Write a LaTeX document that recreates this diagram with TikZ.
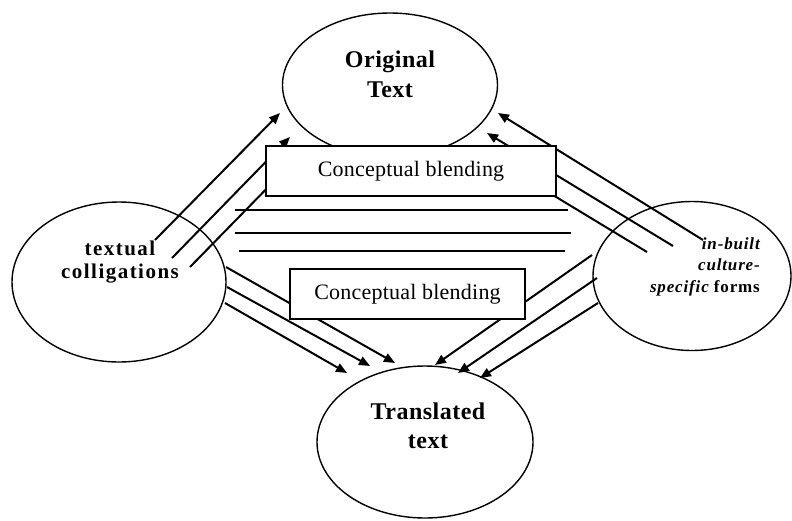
\documentclass[tikz,border=0pt]{standalone}
\usepackage{fontspec}
\setmainfont{Liberation Serif}
\newfontfamily\titlef[LetterSpace=2]{Liberation Serif}
\newfontfamily\colf[LetterSpace=7]{Liberation Serif}
\newfontfamily\formf[LetterSpace=5]{Liberation Serif}
\newfontfamily\boxf[LetterSpace=1]{Liberation Serif}
\usetikzlibrary{shapes.geometric,arrows.meta}
\begin{document}
\begin{tikzpicture}[x=1pt,y=-1pt,
  oval/.style={draw,ellipse,line width=1.4pt,inner sep=0pt},
  blend/.style={draw,fill=white,line width=1.8pt,inner sep=0pt,
    minimum height=50pt,font=\boxf\fontsize{22}{26}\selectfont},
  arr/.style={line width=2pt,-{Triangle[length=11pt,width=9pt]}},
  rulel/.style={line width=2pt},
  bigl/.style={inner sep=0pt,anchor=base,font=\titlef\bfseries\fontsize{24}{28}\selectfont},
  coll/.style={inner sep=0pt,anchor=base,font=\colf\bfseries\fontsize{21}{25}\selectfont},
  forml/.style={inner sep=0pt,anchor=base east,font=\formf\bfseries\fontsize{17}{20}\selectfont}]
\useasboundingbox (0,0) rectangle (792,520);
% ellipses
\node[oval,minimum width=215pt,minimum height=144pt] (orig) at (390,85) {};
\node[oval,minimum width=214pt,minimum height=160pt] (tcol) at (119,282) {};
\node[oval,minimum width=198pt,minimum height=149pt] (ibuilt) at (692,276) {};
\node[oval,minimum width=216pt,minimum height=152pt] (trans) at (425,442) {};
% labels
\node[bigl] (o1) at (390,67) {Original};
\node[bigl] (o2) at (390,97) {Text};
\node[bigl] (t1) at (428,419) {Translated};
\node[bigl] (t2) at (428,448) {text};
\node[coll] (c1) at (120,255) {textual};
\node[coll] (c2) at (120,278) {colligations};
\node[forml] (f1) at (760,249) {\itshape in-built};
\node[forml] (f2) at (760,270) {\itshape culture-};
\node[forml] (f3) at (760,292) {{\itshape specific} forms};
% coordinates
\coordinate (a1s) at (155,240); \coordinate (a1e) at (280,113);
\coordinate (a2s) at (172,258); \coordinate (a2e) at (290,137);
\coordinate (a3s) at (190,267); \coordinate (a3e) at (280,175);
\coordinate (b1s) at (703,240); \coordinate (b1e) at (498,113);
\coordinate (b2s) at (673,246); \coordinate (b2e) at (487,133);
\coordinate (b3s) at (647,252); \coordinate (b3e) at (538,186);
\coordinate (c1s) at (226,267); \coordinate (c1e) at (395,363);
\coordinate (c2s) at (227,287); \coordinate (c2e) at (370,366);
\coordinate (c3s) at (225,303); \coordinate (c3e) at (347,373);
\coordinate (d1s) at (592,255); \coordinate (d1e) at (435,365);
\coordinate (d2s) at (597,278); \coordinate (d2e) at (458,373);
\coordinate (d3s) at (598,303); \coordinate (d3e) at (480,378);
\coordinate (h1a) at (235,210); \coordinate (h1b) at (568,210);
\coordinate (h2a) at (235,233); \coordinate (h2b) at (571,233);
\coordinate (h3a) at (239,251); \coordinate (h3b) at (565,251);
% rules
\draw[rulel] (h1a) -- (h1b);
\draw[rulel] (h2a) -- (h2b);
\draw[rulel] (h3a) -- (h3b);
% arrows
\foreach \p in {a1,a2,a3,b1,b2,b3,c1,c2,c3,d1,d2,d3}
  \draw[arr] (\p s) -- (\p e);
% boxes on top
\node[blend,minimum width=290pt] (blend1) at (411,171) {Conceptual blending};
\node[blend,minimum width=235pt] (blend2) at (407.5,294) {Conceptual blending};
\end{tikzpicture}
\end{document}
